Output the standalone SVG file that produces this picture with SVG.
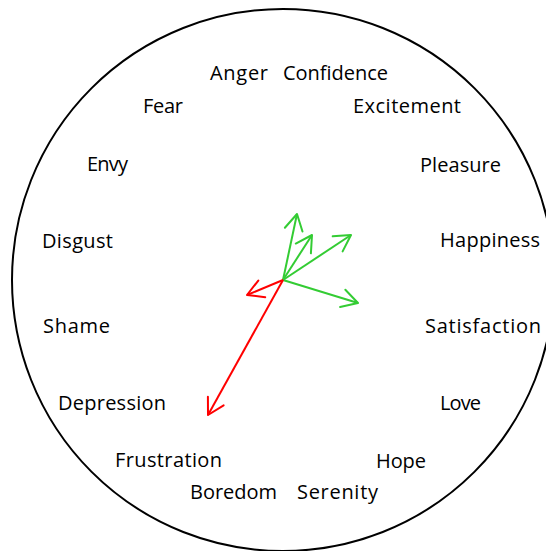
<svg xmlns="http://www.w3.org/2000/svg" width="546" height="551" viewBox="0 0 546 551">
  <style>
    .lbl { font-family: "Open Sans", "Liberation Sans", sans-serif; font-size: 20px; fill: #000; }
    .g { stroke: #33cc33; stroke-width: 2; fill: none; }
    .r { stroke: #ff0000; stroke-width: 2; fill: none; }
  </style>
  <defs>
    <marker id="ag" markerUnits="userSpaceOnUse" viewBox="-20 -12 24 24" markerWidth="24" markerHeight="24" refX="0" refY="0" orient="auto" overflow="visible">
      <path d="M -16 -9 L 0 0 L -16 9" fill="none" stroke="#33cc33" stroke-width="2" stroke-linecap="round" stroke-linejoin="round"/>
    </marker>
    <marker id="ar" markerUnits="userSpaceOnUse" viewBox="-20 -12 24 24" markerWidth="24" markerHeight="24" refX="0" refY="0" orient="auto" overflow="visible">
      <path d="M -16 -9 L 0 0 L -16 9" fill="none" stroke="#ff0000" stroke-width="2" stroke-linecap="round" stroke-linejoin="round"/>
    </marker>
  </defs>
  <rect width="546" height="551" fill="#fff"/>
  <g id="wheel">
    <circle cx="283" cy="280" r="271" fill="none" stroke="#000" stroke-width="2"/>
  </g>
  <g id="anger"><text class="lbl" x="210" y="80" textLength="58" lengthAdjust="spacing">Anger</text></g>
  <g id="confidence"><text class="lbl" x="283" y="80" textLength="105" lengthAdjust="spacing">Confidence</text></g>
  <g id="fear"><text class="lbl" x="143" y="113" textLength="40" lengthAdjust="spacing">Fear</text></g>
  <g id="excitement"><text class="lbl" x="353" y="113" textLength="108" lengthAdjust="spacing">Excitement</text></g>
  <g id="envy"><text class="lbl" x="87" y="171" textLength="41" lengthAdjust="spacing">Envy</text></g>
  <g id="pleasure"><text class="lbl" x="420" y="172" textLength="81" lengthAdjust="spacing">Pleasure</text></g>
  <g id="disgust"><text class="lbl" x="42" y="248" textLength="71" lengthAdjust="spacing">Disgust</text></g>
  <g id="happiness"><text class="lbl" x="440" y="247" textLength="100" lengthAdjust="spacing">Happiness</text></g>
  <g id="shame"><text class="lbl" x="43" y="333" textLength="67" lengthAdjust="spacing">Shame</text></g>
  <g id="satisfaction"><text class="lbl" x="425" y="333" textLength="116" lengthAdjust="spacing">Satisfaction</text></g>
  <g id="depression"><text class="lbl" x="58" y="410" textLength="108" lengthAdjust="spacing">Depression</text></g>
  <g id="love"><text class="lbl" x="440" y="410" textLength="41" lengthAdjust="spacing">Love</text></g>
  <g id="frustration"><text class="lbl" x="115" y="467" textLength="107" lengthAdjust="spacing">Frustration</text></g>
  <g id="hope"><text class="lbl" x="376" y="468" textLength="50" lengthAdjust="spacing">Hope</text></g>
  <g id="boredom"><text class="lbl" x="190" y="499" textLength="87" lengthAdjust="spacing">Boredom</text></g>
  <g id="serenity"><text class="lbl" x="297" y="499" textLength="81" lengthAdjust="spacing">Serenity</text></g>
  <g id="connectors">
    <line class="g" x1="283" y1="280" x2="297" y2="214" marker-end="url(#ag)"/>
    <line class="g" x1="283" y1="280" x2="312" y2="235" marker-end="url(#ag)"/>
    <line class="g" x1="283" y1="280" x2="351" y2="235" marker-end="url(#ag)"/>
    <line class="g" x1="283" y1="280" x2="358" y2="303" marker-end="url(#ag)"/>
    <line class="r" x1="283" y1="280" x2="247" y2="295" marker-end="url(#ar)"/>
    <line class="r" x1="283" y1="280" x2="208" y2="415" marker-end="url(#ar)"/>
  </g>
</svg>
